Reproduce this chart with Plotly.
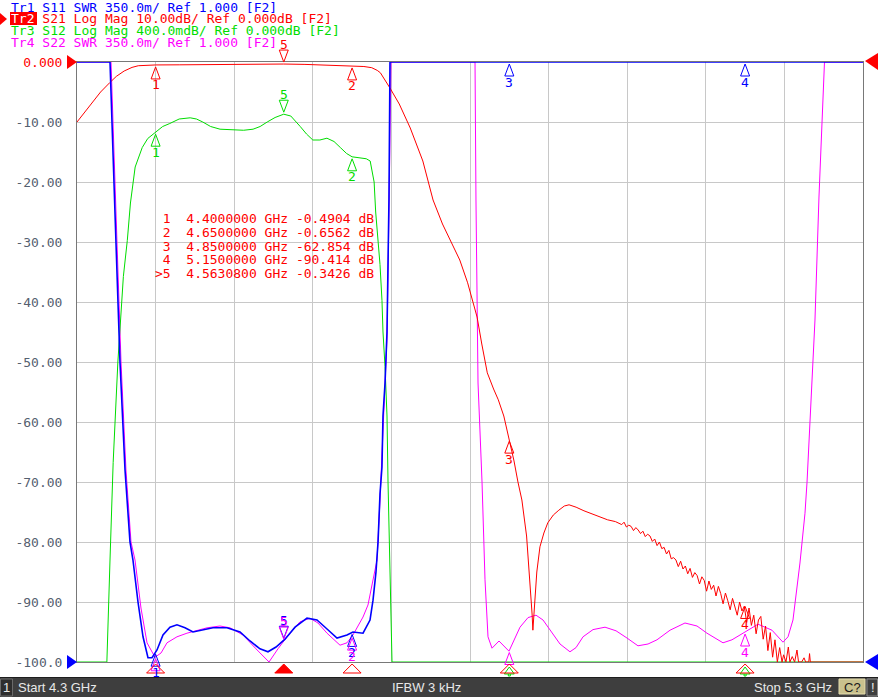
import numpy as np
import plotly.graph_objects as go

W, H = 878, 697
L, R, T, B = 77, 15, 62, 35
PW, PH = W - L - R, H - T - B

F_START, F_STOP = 4.3, 5.3

# ---------------- Tr2  S21  (dB) ----------------
s21_freq = [4.300, 4.310, 4.320, 4.330, 4.342, 4.350, 4.360, 4.370, 4.378, 4.390,
            4.400, 4.430, 4.460, 4.500, 4.540, 4.563, 4.590, 4.620, 4.650, 4.665,
            4.675, 4.682, 4.686, 4.690, 4.698, 4.710, 4.724, 4.740, 4.753, 4.765,
            4.775, 4.787, 4.797, 4.803, 4.809, 4.815, 4.822, 4.830, 4.836, 4.843,
            4.850, 4.856, 4.861, 4.866, 4.872, 4.876, 4.879, 4.880, 4.882, 4.885,
            4.889, 4.894, 4.899, 4.906, 4.913, 4.920, 4.926, 4.935, 4.945, 4.953,
            4.965, 4.975, 4.985,
            4.990, 4.993, 4.996, 4.999, 5.002, 5.005, 5.008, 5.011, 5.014, 5.017,
            5.020, 5.023, 5.026, 5.029, 5.032, 5.035, 5.038, 5.041, 5.044, 5.047,
            5.050, 5.053, 5.056, 5.059, 5.062, 5.065, 5.068, 5.071, 5.074, 5.077,
            5.080, 5.083, 5.086, 5.089, 5.092, 5.095, 5.098, 5.101, 5.104, 5.107,
            5.110, 5.113, 5.116, 5.119, 5.122, 5.125, 5.128, 5.131, 5.134, 5.137,
            5.140, 5.143, 5.146, 5.149, 5.152, 5.155, 5.158, 5.161, 5.164, 5.167,
            5.170, 5.173, 5.176, 5.179, 5.182, 5.185, 5.188, 5.191, 5.194, 5.197,
            5.199, 5.202, 5.205, 5.207, 5.210, 5.213, 5.216, 5.218, 5.222, 5.225,
            5.227, 5.231, 5.232, 5.233, 5.300]
s21_db = [-10.0, -8.3, -6.6, -5.0, -3.4, -2.4, -1.5, -0.9, -0.62, -0.52,
          -0.49, -0.47, -0.42, -0.40, -0.36, -0.34, -0.40, -0.50, -0.66, -0.75,
          -0.95, -1.4, -1.8, -2.6, -4.3, -7.0, -11.0, -16.5, -23.0, -27.0,
          -29.7, -33.0, -36.8, -39.5, -42.5, -47.0, -51.8, -54.5, -56.3, -59.0,
          -62.85, -66.5, -70.0, -73.0, -79.0, -86.0, -92.0, -94.7, -90.0, -85.0,
          -80.8, -78.5, -76.8, -75.5, -74.7, -74.0, -73.8, -74.2, -74.8, -75.2,
          -75.8, -76.3, -76.6,
          -76.9, -77.1, -76.7, -77.5, -77.2, -77.4, -78.1, -77.6, -78.0, -78.6,
          -78.2, -79.1, -78.7, -79.0, -79.9, -79.5, -80.6, -80.0, -81.1, -80.9,
          -82.0, -81.4, -82.8, -82.6, -83.0, -84.1, -83.2, -84.5, -84.0, -85.3,
          -84.4, -85.9, -85.1, -85.6, -87.0, -85.8, -86.4, -88.2, -86.5, -87.9,
          -87.2, -89.0, -87.4, -88.6, -90.3, -88.5, -89.8, -91.3, -89.4, -90.6,
          -92.2, -90.0, -91.5, -90.7, -93.4, -91.0, -93.9, -92.2, -95.3, -93.0,
          -92.4, -96.2, -94.0, -98.1, -95.1, -99.2, -96.3, -100.0, -97.6, -100.0,
          -98.8, -100.0, -97.5, -100.0, -99.1, -100.0, -98.0, -100.0, -100.0, -99.3,
          -100.0, -100.0, -98.6, -100.0, -100.0]

# ---------------- Tr3  S12  (dB) ----------------
s12_freq = [4.300, 4.338, 4.342, 4.346, 4.352, 4.356, 4.359, 4.364, 4.368, 4.374,
            4.383, 4.390, 4.400, 4.409, 4.418, 4.430, 4.444, 4.452, 4.460, 4.470,
            4.482, 4.500, 4.512, 4.524, 4.533, 4.542, 4.552, 4.563, 4.572, 4.584,
            4.592, 4.600, 4.609, 4.618, 4.627, 4.635, 4.643, 4.650, 4.660, 4.668,
            4.673, 4.678, 4.680, 4.6855, 4.688, 4.6893, 4.6919, 4.6944, 4.6957, 4.6982,
            4.7008, 5.300]
s12_db = [-4.0, -4.0, -3.32, -2.67, -2.0, -1.63, -1.43, -1.19, -0.94, -0.70,
          -0.57, -0.51, -0.468, -0.43, -0.41, -0.38, -0.372, -0.38, -0.40, -0.43,
          -0.448, -0.455, -0.455, -0.448, -0.43, -0.40, -0.37, -0.348, -0.36, -0.43,
          -0.48, -0.52, -0.52, -0.508, -0.53, -0.57, -0.61, -0.632, -0.64, -0.645,
          -0.66, -0.80, -1.0, -1.35, -1.59, -1.80, -2.03, -2.36, -2.80, -3.32,
          -4.0, -4.0]

# ---------------- Tr1  S11  (SWR) ----------------
s11_freq = [4.300, 4.342, 4.3483, 4.3547, 4.3611, 4.3674, 4.3712, 4.3776, 4.3840, 4.3903,
            4.3954, 4.4018, 4.4094, 4.4183, 4.4272, 4.4374, 4.4476, 4.4603, 4.4730, 4.4908,
            4.5074, 4.5201, 4.5328, 4.5430, 4.5532, 4.5646, 4.5774, 4.5926, 4.6053, 4.6181,
            4.6308, 4.6435, 4.6511, 4.6639, 4.6728, 4.6766, 4.6804, 4.6830, 4.6855, 4.6880,
            4.6893, 4.6919, 4.6944, 4.6969, 4.6982, 4.7010, 5.300]
s11_swr = [8.0, 4.5, 3.625, 2.75, 2.12, 1.70, 1.595, 1.35, 1.147, 1.0245,
           1.0245, 1.07, 1.1575, 1.203, 1.217, 1.1995, 1.175, 1.189, 1.1995, 1.1995,
           1.175, 1.1225, 1.077, 1.0595, 1.0875, 1.133, 1.203, 1.2555, 1.245, 1.1925,
           1.14, 1.1575, 1.175, 1.168, 1.245, 1.3605, 1.525, 1.70, 1.98, 2.1375,
           2.435, 2.6275, 2.925, 3.695, 4.5, 8.0, 8.0]

# ---------------- Tr4  S22  (SWR) ----------------
s22_freq = [4.300, 4.3433, 4.3496, 4.3560, 4.3623, 4.3687, 4.3738, 4.3814, 4.3891, 4.3992,
            4.4069, 4.4145, 4.4272, 4.4399, 4.4654, 4.4819, 4.4947, 4.5112, 4.5277, 4.5443,
            4.5557, 4.5672, 4.5837, 4.5964, 4.6066, 4.6181, 4.6346, 4.6435, 4.6511, 4.6639,
            4.6702, 4.6766, 4.6817, 4.6855, 4.6893, 4.6919, 4.6944, 4.6969, 4.6995, 4.7046,
            4.8050, 4.8064, 4.8076, 4.8089, 4.8102, 4.8127, 4.8153, 4.8191, 4.8229, 4.8280,
            4.8369, 4.8496, 4.8636, 4.8738, 4.8840, 4.8929, 4.9018, 4.9145, 4.9272, 4.9349,
            4.9438, 4.9565, 4.9718, 4.9858, 4.9997, 5.0137, 5.0265, 5.0379, 5.0545, 5.0735,
            5.0888, 5.1015, 5.1219, 5.1333, 5.1435, 5.1500, 5.1664, 5.1842, 5.1982, 5.2046,
            5.2109, 5.2198, 5.2262, 5.2288, 5.2338, 5.2389, 5.2440, 5.2478, 5.2510, 5.2560,
            5.300]
s22_swr = [8.0, 4.5, 3.625, 2.75, 2.12, 1.70, 1.595, 1.315, 1.112, 1.028,
           1.0525, 1.112, 1.147, 1.168, 1.1995, 1.21, 1.1995, 1.1575, 1.077, 1.0,
           1.077, 1.147, 1.2345, 1.2555, 1.2275, 1.168, 1.098, 1.112, 1.1575, 1.2625,
           1.3325, 1.4795, 1.595, 1.945, 2.33, 2.575, 2.89, 3.625, 4.5, 8.0,
           8.0, 4.5, 3.695, 3.1105, 2.6275, 2.3475, 2.05, 1.4795, 1.147, 1.0805,
           1.1225, 1.063, 1.203, 1.259, 1.273, 1.245, 1.1855, 1.105, 1.0595, 1.084,
           1.147, 1.189, 1.203, 1.182, 1.14, 1.0945, 1.105, 1.1295, 1.1855, 1.2275,
           1.21, 1.168, 1.112, 1.1295, 1.1575, 1.175, 1.2205, 1.1855, 1.1155, 1.147,
           1.245, 1.5775, 1.868, 2.05, 2.54, 2.995, 3.7125, 4.1605, 4.5, 8.0,
           8.0]

# ---------------- markers ----------------
marker_ids = ["1", "2", "3", "4", "5"]
marker_freq = [4.40, 4.65, 4.85, 5.15, 4.56308]
marker_s21 = [-0.4904, -0.6562, -62.854, -90.414, -0.3426]

y_tick_vals = [0, -10, -20, -30, -40, -50, -60, -70, -80, -90, -100]
y_tick_text = ["0.000", "-10.00", "-20.00", "-30.00", "-40.00", "-50.00",
               "-60.00", "-70.00", "-80.00", "-90.00", "-100.0"]

header_lines = ["Tr1 S11 SWR 350.0m/ Ref 1.000 [F2]",
                "Tr2 S21 Log Mag 10.00dB/ Ref 0.000dB [F2]",
                "Tr3 S12 Log Mag 400.0mdB/ Ref 0.000dB [F2]",
                "Tr4 S22 SWR 350.0m/ Ref 1.000 [F2]"]
status_left = "Start 4.3 GHz"
status_mid = "IFBW 3 kHz"
status_right = "Stop 5.3 GHz"

BLUE, RED, GREEN, MAG = "#0000ff", "#ff0000", "#00dd00", "#ff00ff"
MONO = "DejaVu Sans Mono"


# display scale conversions (each trace has its own scale / reference)
def disp_db10(v):
    return np.clip(np.asarray(v, float), -100, 0)


def disp_db04(v):
    return np.clip(np.asarray(v, float) / 0.4 * 10.0, -100, 0)


def disp_swr(v):
    return np.clip(-100 + (np.asarray(v, float) - 1.0) / 0.35 * 10.0, -100, 0)


def px(xp):
    return (xp - L) / PW


def py(yp):
    return (T + PH - yp) / PH


traces = [
    ("S22", s22_freq, disp_swr(s22_swr), MAG, 1.0),
    ("S12", s12_freq, disp_db04(s12_db), GREEN, 1.0),
    ("S21", s21_freq, disp_db10(s21_db), RED, 1.0),
    ("S11", s11_freq, disp_swr(s11_swr), BLUE, 1.6),
]

fig = go.Figure()
for name, fx, fy, col, lw in traces:
    fig.add_trace(go.Scatter(x=fx, y=fy, mode="lines", name=name,
                             line=dict(color=col, width=lw), hoverinfo="skip"))

shapes = []
annotations = []


def tri(up, w=4.5, h0=2, h1=14):
    s = -1 if up else 1
    return f"M0,{s*h0} L{-w},{s*h1} L{w},{s*h1} Z"


def add_marker(f, d, col, mid, up=True, label=True):
    shapes.append(dict(type="path", xref="x", yref="paper", xsizemode="pixel",
                       ysizemode="pixel", xanchor=f, yanchor=(d + 100) / 100.0,
                       path=tri(up), line=dict(color=col, width=1),
                       fillcolor="rgba(0,0,0,0)", layer="above"))
    if label:
        annotations.append(dict(x=f, y=d, xref="x", yref="y", text=mid,
                                showarrow=False, yshift=-20 if up else 20,
                                font=dict(family=MONO, size=13, color=col)))


disp_traces = {t[0]: (np.asarray(t[1]), t[2], t[3]) for t in traces}

for i, mid in enumerate(marker_ids):
    f = marker_freq[i]
    up = mid != "5"
    add_marker(f, marker_s21[i], RED, mid, up)
    for key in ["S12", "S11", "S22"]:
        fx, fy, col = disp_traces[key]
        d = float(np.interp(f, fx, fy))
        if d <= -99.99:
            shapes.append(dict(type="path", xref="x", yref="paper", xsizemode="pixel",
                               ysizemode="pixel", xanchor=f, yanchor=0,
                               path="M0,-5 L-5,-12 L5,-12 Z M-1,-12 L-1,-14 L1,-14 L1,-12",
                               line=dict(color=col, width=1), fillcolor="rgba(0,0,0,0)"))
            continue
        add_marker(f, d, col, mid, up, label=(d > -98.0 or key == "S11"))

# stimulus marker row under the grid
for i, mid in enumerate(marker_ids):
    active = mid == "5"
    shapes.append(dict(type="path", xref="x", yref="paper", xsizemode="pixel",
                       ysizemode="pixel", xanchor=marker_freq[i], yanchor=0,
                       path="M0,-2 L-9,-11 L9,-11 Z", line=dict(color=RED, width=1),
                       fillcolor=RED if active else "rgba(0,0,0,0)"))


def pshape(path, col):
    shapes.append(dict(type="path", xref="paper", yref="paper", path=path,
                       line=dict(color=col, width=0), fillcolor=col))


def ppath(pts):
    return "M" + " L".join(f"{px(a):.5f},{py(b):.5f}" for a, b in pts) + " Z"


# reference-level arrows at plot edges
pshape(ppath([(67, 55), (77, 62), (67, 69)]), RED)
pshape(ppath([(67, 655), (77, 662), (67, 669)]), BLUE)
pshape(ppath([(878, 53), (865, 61), (878, 70)]), RED)
pshape(ppath([(878, 654), (865, 662), (878, 670)]), BLUE)

# header (Tr2 is the active trace: white on red box)
hdr_cols = [BLUE, RED, GREEN, MAG]
hdr_y = [7, 19, 31, 43]
shapes.append(dict(type="rect", xref="paper", yref="paper", x0=px(10), x1=px(37),
                   y0=py(25), y1=py(12), fillcolor=RED, line=dict(width=0)))
pshape(ppath([(0, 13), (7, 19), (0, 25)]), RED)
for k, (t, c, yy) in enumerate(zip(header_lines, hdr_cols, hdr_y)):
    txt = t.replace(" ", "&nbsp;")
    if k == 1:
        txt = "<span style='color:white'>Tr2</span>" + txt[3:]
    annotations.append(dict(x=px(10), y=py(yy), xref="paper", yref="paper",
                            text=txt, showarrow=False, borderpad=0,
                            xanchor="left", yanchor="middle",
                            font=dict(family=MONO, size=13, color=c)))

# marker table
tbl_y = [218, 232, 246, 259, 273]
for i, mid in enumerate(marker_ids):
    v = marker_s21[i]
    vs = f"{v:.4f}" if abs(v) < 10 else f"{v:.3f}"
    line = f"{'>' if mid == '5' else ' '}{mid}  {marker_freq[i]:.7f} GHz {vs} dB"
    annotations.append(dict(x=px(154), y=py(tbl_y[i]), xref="paper", yref="paper",
                            text=line.replace(" ", "&nbsp;"), showarrow=False,
                            borderpad=0, xanchor="left", yanchor="middle",
                            font=dict(family=MONO, size=13, color=RED)))

# status bar
shapes.append(dict(type="rect", xref="paper", yref="paper", x0=px(0), x1=px(878),
                   y0=py(697), y1=py(677), fillcolor="#3e3e3e",
                   line=dict(width=0), layer="above"))
shapes.append(dict(type="line", xref="paper", yref="paper", x0=px(0), x1=px(878),
                   y0=py(677.5), y1=py(677.5), line=dict(color="#1e1e1e", width=1)))
shapes.append(dict(type="rect", xref="paper", yref="paper", x0=px(0.5), x1=px(12.5),
                   y0=py(696), y1=py(679), fillcolor="#2e2e2e",
                   line=dict(color="#6a6a6a", width=1)))
shapes.append(dict(type="rect", xref="paper", yref="paper", x0=px(839), x1=px(865),
                   y0=py(694), y1=py(679), fillcolor="#c9c18d",
                   line=dict(color="#e4dcae", width=1)))
shapes.append(dict(type="rect", xref="paper", yref="paper", x0=px(867), x1=px(877.5),
                   y0=py(696), y1=py(679), fillcolor="#3e3e3e",
                   line=dict(color="#8a8a8a", width=1)))
SANS = "Liberation Sans"
for txt, xx, anc, col in [("1", 6.5, "center", "#e8e8e8"),
                          (status_left, 16, "left", "#e8e8e8"),
                          (status_mid, 426, "center", "#e8e8e8"),
                          (status_right, 834, "right", "#e8e8e8"),
                          ("C?", 852, "center", "#1a1a1a"),
                          ("!", 872.5, "center", "#e8e8e8")]:
    annotations.append(dict(x=px(xx), y=py(687), xref="paper", yref="paper", text=txt,
                            showarrow=False, xanchor=anc, yanchor="middle",
                            font=dict(family=SANS, size=13, color=col)))

tick_text = [f"<span style='color:{RED}'>{t}</span>" if v == 0 else t
             for v, t in zip(y_tick_vals, y_tick_text)]

fig.update_layout(
    width=W, height=H, margin=dict(l=L, r=R, t=T, b=B, pad=0),
    paper_bgcolor="white", plot_bgcolor="white", showlegend=False,
    shapes=shapes, annotations=annotations,
    xaxis=dict(range=[F_START, F_STOP], tick0=F_START, dtick=0.1, showticklabels=False,
               showgrid=True, gridcolor="#c8c8c8", gridwidth=1, zeroline=False,
               showline=True, mirror=True, linecolor="#787878", linewidth=1, ticks=""),
    yaxis=dict(range=[-100, 0], tickvals=y_tick_vals, ticktext=tick_text,
               showgrid=True, gridcolor="#c8c8c8", gridwidth=1, zeroline=False,
               showline=True, mirror=True, linecolor="#787878", linewidth=1, ticks="",
               ticklabelstandoff=11,
               tickfont=dict(family=MONO, size=13, color="#55606f")),
)

fig.write_html("out.html", config={"displayModeBar": False},
               post_script="document.body.style.margin='0px';"
                           "document.body.style.padding='0px';"
                           "document.body.style.overflow='hidden';")
